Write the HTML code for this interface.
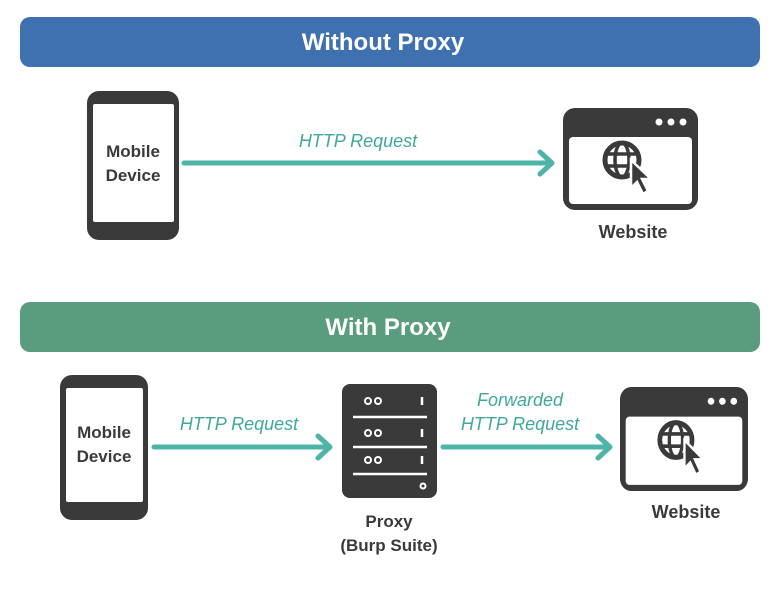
<!DOCTYPE html>
<html><head><meta charset="utf-8"><style>
body{margin:0;background:#fff;}
svg{display:block}
text{font-family:"Liberation Sans",sans-serif}
</style></head><body>
<svg width="781" height="604" viewBox="0 0 781 604" xmlns="http://www.w3.org/2000/svg">
<defs>
<g id="web">
<rect x="0" y="0" width="135" height="102" rx="12" fill="#3a3a3a"/>
<rect x="6" y="29" width="123" height="67" rx="4" fill="#fff"/>
<circle cx="96" cy="14" r="3.5" fill="#fff"/><circle cx="108" cy="14" r="3.5" fill="#fff"/><circle cx="120" cy="14" r="3.5" fill="#fff"/>
<g fill="none" stroke="#3a3a3a" stroke-width="5">
<circle cx="59" cy="52" r="17"/>
<ellipse cx="59" cy="52" rx="7" ry="17" stroke-width="3.5"/>
<line x1="42" y1="46" x2="76" y2="46" stroke-width="3.5"/>
<line x1="42" y1="58" x2="76" y2="58" stroke-width="3.5"/>
</g>
<path d="M68 52 L68 80 L74 74 L80 86 L85 83 L79 71 L88 71 Z" fill="#3a3a3a" stroke="#fff" stroke-width="2.5"/>
</g>
</defs>
<rect x="20" y="17" width="740" height="50" rx="10" fill="#3f71b1"/>
<text x="383" y="50" text-anchor="middle" font-size="24" font-weight="bold" fill="#fff">Without Proxy</text>

<rect x="87" y="91" width="92" height="149" rx="12" fill="#3a3a3a"/>
<rect x="93" y="104" width="81" height="118" rx="2" fill="#fff"/>
<text x="133" y="157" text-anchor="middle" font-size="17" font-weight="bold" fill="#3a3a3a">Mobile</text>
<text x="133" y="181" text-anchor="middle" font-size="17" font-weight="bold" fill="#3a3a3a">Device</text>

<line x1="184" y1="163" x2="550" y2="163" stroke="#4db4a7" stroke-width="5" stroke-linecap="round"/>
<path d="M540 152 L552 163 L540 174" fill="none" stroke="#4db4a7" stroke-width="5" stroke-linecap="round" stroke-linejoin="round"/>
<text x="358" y="147" text-anchor="middle" font-size="18" font-style="italic" fill="#3fa89b">HTTP Request</text>

<use href="#web" x="563" y="108"/>
<text x="633" y="238" text-anchor="middle" font-size="18" font-weight="bold" fill="#3a3a3a">Website</text>

<rect x="20" y="302" width="740" height="50" rx="10" fill="#5a9d7e"/>
<text x="388" y="335" text-anchor="middle" font-size="24" font-weight="bold" fill="#fff">With Proxy</text>

<rect x="60" y="375" width="88" height="145" rx="12" fill="#3a3a3a"/>
<rect x="66" y="388" width="77" height="114" rx="2" fill="#fff"/>
<text x="104" y="438" text-anchor="middle" font-size="17" font-weight="bold" fill="#3a3a3a">Mobile</text>
<text x="104" y="462" text-anchor="middle" font-size="17" font-weight="bold" fill="#3a3a3a">Device</text>

<line x1="154" y1="447" x2="328" y2="447" stroke="#4db4a7" stroke-width="5" stroke-linecap="round"/>
<path d="M318 436 L330 447 L318 458" fill="none" stroke="#4db4a7" stroke-width="5" stroke-linecap="round" stroke-linejoin="round"/>
<text x="239" y="430" text-anchor="middle" font-size="18" font-style="italic" fill="#3fa89b">HTTP Request</text>

<rect x="342" y="384" width="95" height="114" rx="8" fill="#3a3a3a"/>
<g fill="none" stroke="#fff" stroke-width="2">
<circle cx="368" cy="401" r="3"/><circle cx="378" cy="401" r="3"/>
<circle cx="368" cy="433" r="3"/><circle cx="378" cy="433" r="3"/>
<circle cx="368" cy="460" r="3"/><circle cx="378" cy="460" r="3"/>
<circle cx="423" cy="486" r="2.5"/>
</g>
<g stroke="#fff" stroke-width="2.5">
<line x1="353" y1="417" x2="427" y2="417"/><line x1="353" y1="447" x2="427" y2="447"/><line x1="353" y1="474" x2="427" y2="474"/>
<line x1="422" y1="397" x2="422" y2="405"/><line x1="422" y1="429" x2="422" y2="437"/><line x1="422" y1="456" x2="422" y2="464"/>
</g>
<text x="389" y="527" text-anchor="middle" font-size="17" font-weight="bold" fill="#3a3a3a">Proxy</text>
<text x="389" y="551" text-anchor="middle" font-size="17" font-weight="bold" fill="#3a3a3a">(Burp Suite)</text>

<line x1="443" y1="447" x2="608" y2="447" stroke="#4db4a7" stroke-width="5" stroke-linecap="round"/>
<path d="M598 436 L610 447 L598 458" fill="none" stroke="#4db4a7" stroke-width="5" stroke-linecap="round" stroke-linejoin="round"/>
<text x="520" y="406" text-anchor="middle" font-size="18" font-style="italic" fill="#3fa89b">Forwarded</text>
<text x="520" y="430" text-anchor="middle" font-size="18" font-style="italic" fill="#3fa89b">HTTP Request</text>

<use href="#web" transform="translate(620,387) scale(0.948,1.02)"/>
<text x="686" y="518" text-anchor="middle" font-size="18" font-weight="bold" fill="#3a3a3a">Website</text>
</svg>
</body></html>
